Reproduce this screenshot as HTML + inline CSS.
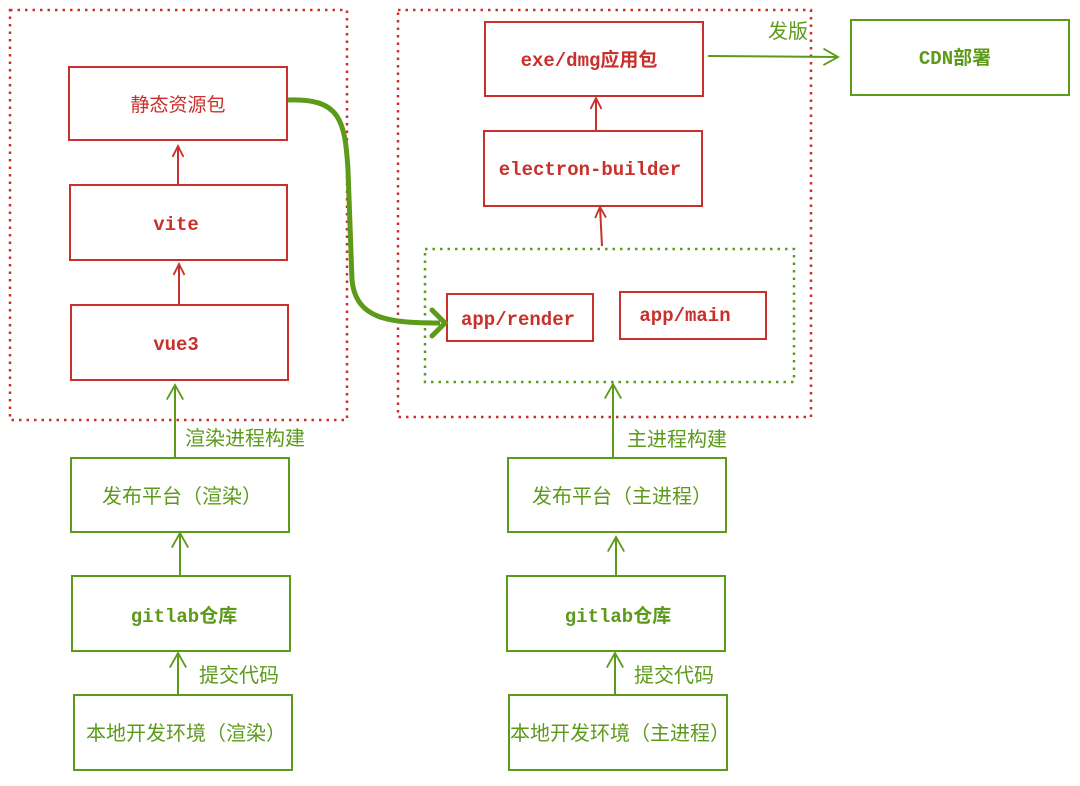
<!DOCTYPE html>
<html><head><meta charset="utf-8"><style>
html,body{margin:0;padding:0;background:#fff}
svg text{font-family:"Liberation Sans","Noto Sans CJK SC",sans-serif}
.m{font-family:"Liberation Mono","Noto Sans CJK SC",monospace!important;font-weight:bold}
</style></head><body>
<svg width="1080" height="781" viewBox="0 0 1080 781" xmlns="http://www.w3.org/2000/svg">
<defs>
<marker id="ag" markerWidth="20" markerHeight="20" refX="0" refY="0" viewBox="-20 -10 22 20" orient="auto" markerUnits="userSpaceOnUse"><path d="M-16,-9 L0,0 L-16,9" fill="none" stroke="#5c9a1a" stroke-width="2"/></marker>
<marker id="ar" markerWidth="20" markerHeight="20" refX="0" refY="0" viewBox="-20 -10 22 20" orient="auto" markerUnits="userSpaceOnUse"><path d="M-12,-6 L0,0 L-12,6" fill="none" stroke="#c9302c" stroke-width="2"/></marker>
</defs>
<g fill="none" stroke="#c9302c" stroke-width="2.5" stroke-dasharray="2.5 5">
<rect x="10" y="10" width="337" height="410"/>
<rect x="398" y="10" width="413" height="407"/>
</g>
<rect x="425" y="249" width="369" height="133" fill="none" stroke="#5c9a1a" stroke-width="2.5" stroke-dasharray="2.5 5"/>
<g fill="none" stroke="#c9302c" stroke-width="2">
<rect x="69" y="67" width="218" height="73"/>
<rect x="70" y="185" width="217" height="75"/>
<rect x="71" y="305" width="217" height="75"/>
<rect x="485" y="22" width="218" height="74"/>
<rect x="484" y="131" width="218" height="75"/>
<rect x="447" y="294" width="146" height="47"/>
<rect x="620" y="292" width="146" height="47"/>
</g>
<g fill="none" stroke="#5c9a1a" stroke-width="2">
<rect x="851" y="20" width="218" height="75"/>
<rect x="71" y="458" width="218" height="74"/>
<rect x="72" y="576" width="218" height="75"/>
<rect x="74" y="695" width="218" height="75"/>
<rect x="508" y="458" width="218" height="74"/>
<rect x="507" y="576" width="218" height="75"/>
<rect x="509" y="695" width="218" height="75"/>
</g>
<g stroke="#c9302c" stroke-width="2" fill="none">
<path d="M178,184 L178,146" marker-end="url(#ar)"/>
<path d="M179,304 L179,264" marker-end="url(#ar)"/>
<path d="M596,130 L596,98" marker-end="url(#ar)"/>
<path d="M602,246 L600,207" marker-end="url(#ar)"/>
</g>
<g stroke="#5c9a1a" stroke-width="2" fill="none">
<path d="M175,458 L175,385" marker-end="url(#ag)"/>
<path d="M180,576 L180,533" marker-end="url(#ag)"/>
<path d="M178,694 L178,653" marker-end="url(#ag)"/>
<path d="M613,457 L613,384" marker-end="url(#ag)"/>
<path d="M616,576 L616,537" marker-end="url(#ag)"/>
<path d="M615,694 L615,653" marker-end="url(#ag)"/>
<path d="M708,56 L838,57" marker-end="url(#ag)"/>
</g>
<path d="M288,100 C340,98 345,120 348,170 L352,280 C356,320 390,323 440,323" fill="none" stroke="#5c9a1a" stroke-width="5"/>
<path d="M432,310 L445,323 L432,336" fill="none" stroke="#5c9a1a" stroke-width="5" stroke-linecap="round"/>
<g fill="#c9302c" font-size="19" text-anchor="middle">
<text x="178" y="111">静态资源包</text>
<text x="176" y="230" class="m">vite</text>
<text x="176" y="350" class="m">vue3</text>
<text x="589" y="66" class="m">exe/dmg应用包</text>
<text x="590" y="175" class="m">electron-builder</text>
<text x="518" y="325" class="m">app/render</text>
<text x="685" y="321" class="m">app/main</text>
</g>
<g fill="#5c9a1a" font-size="20" text-anchor="middle">
<text x="955" y="64" class="m" font-size="19">CDN部署</text>
<text x="182" y="503">发布平台（渲染）</text>
<text x="184" y="622" class="m" font-size="19">gitlab仓库</text>
<text x="186" y="740">本地开发环境（渲染）</text>
<text x="622" y="503">发布平台（主进程）</text>
<text x="618" y="622" class="m" font-size="19">gitlab仓库</text>
<text x="620" y="740">本地开发环境（主进程）</text>
</g>
<g fill="#5c9a1a" font-size="20">
<text x="185" y="445">渲染进程构建</text>
<text x="627" y="446">主进程构建</text>
<text x="199" y="682">提交代码</text>
<text x="634" y="682">提交代码</text>
<text x="768" y="38">发版</text>
</g>
</svg>
</body></html>
